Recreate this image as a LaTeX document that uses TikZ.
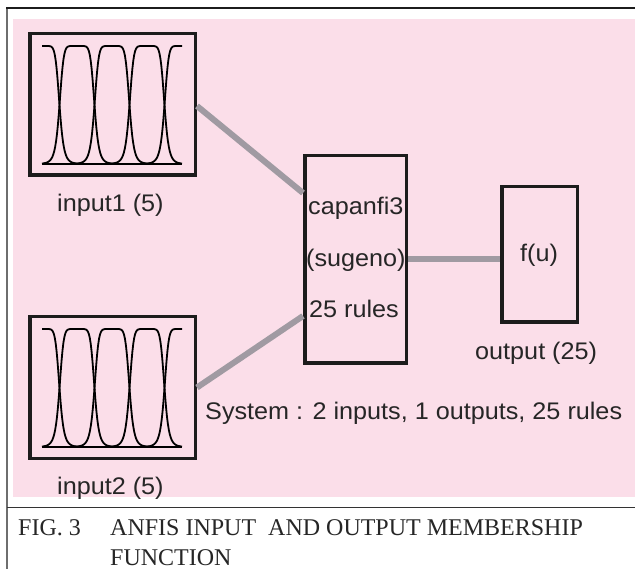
\documentclass[tikz,border=0pt]{standalone}
\usepackage{fontspec}
\setmainfont{Liberation Serif}
\newfontfamily\guifont[FakeStretch=1.05]{Liberation Sans}
\definecolor{panel}{RGB}{251,222,233}
\definecolor{wire}{RGB}{160,154,162}
\definecolor{ink}{RGB}{38,38,38}
\definecolor{edge}{RGB}{28,28,28}
\definecolor{framegray}{RGB}{110,110,110}

\tikzset{
  blockbox/.style={draw=edge, line width=3.5pt, rectangle, inner sep=0pt},
  wireline/.style={draw=wire, line width=6pt},
  mfline/.style={draw=black, line width=1.8pt},
  guilabel/.style={anchor=base west, inner sep=0pt, text=ink,
    font=\guifont\fontsize{24pt}{28pt}\selectfont},
  captext/.style={anchor=base west, inner sep=0pt, text=ink,
    font=\fontsize{24pt}{28pt}\selectfont}
}

% five bell-shaped membership functions over one input range
\newcommand\mfpanel[1]{%
  \begin{scope}[shift={(0,#1)}]
    \draw[mfline] (42,164) -- (182,164);
    \foreach \c in {42,77,112,147,182} {
      \pgfmathsetmacro\lo{max(42,\c-40)}
      \pgfmathsetmacro\hi{min(182,\c+40)}
      \draw[mfline] plot[domain=\lo:\hi, samples=81]
        (\x, {164-118/(1+(abs(\x-\c+0.0001)/17.5)^8)});
    }
  \end{scope}}

\begin{document}
\begin{tikzpicture}[x=1pt,y=-1pt]
  \useasboundingbox (0,0) rectangle (635,569);
  \fill[white] (0,0) rectangle (635,569);
  \fill[panel] (13,19) rectangle (635,497);

  % frame and caption separator
  \draw[framegray, line width=2pt] (7,8) -- (7,569);
  \draw[edge, line width=2pt] (6,8) -- (635,8);
  \draw[edge!90, line width=1.2pt] (7,507.5) -- (635,507.5);

  % blocks
  \node[blockbox, minimum width=165.5pt, minimum height=141.5pt] (in1) at (112.5,104.5) {};
  \node[blockbox, minimum width=165.5pt, minimum height=141.5pt] (in2) at (112.5,387.5) {};
  \node[blockbox, minimum width=101.5pt, minimum height=207.5pt] (fis) at (355.5,259.5) {};
  \node[blockbox, minimum width=75.5pt, minimum height=135.5pt] (out) at (539.5,254.5) {};

  % connectors
  \draw[wireline] ([yshift=-1.5pt]in1.east) -- ([yshift=66.5pt]fis.west);
  \draw[wireline] (in2.east) -- ([yshift=-56.5pt]fis.west);
  \draw[wireline] (fis.east) -- (fis.east -| out.west);

  % membership function plots
  \mfpanel{0}
  \mfpanel{283}

  % block labels
  \node[guilabel] (l1) at (57,212) {input1 (5)};
  \node[guilabel] (l2) at (57,494) {input2 (5)};
  \node[guilabel] (f1) at (308,215) {capanfi3};
  \node[guilabel] (f2) at (306,267) {(sugeno)};
  \node[guilabel] (f3) at (309,318) {25 rules};
  \node[guilabel] (o1) at (520,262) {f(u)};
  \node[guilabel] (o2) at (475,360) {output (25)};
  \node[guilabel] (sys) at (205,420) {System : 2 inputs, 1 outputs, 25 rules};

  % caption
  \node[captext] (c1) at (18,535) {FIG. 3};
  \node[captext] (c2) at (110,535) {ANFIS INPUT\ \ AND OUTPUT MEMBERSHIP};
  \node[captext] (c3) at (110,565) {FUNCTION};
\end{tikzpicture}
\end{document}
